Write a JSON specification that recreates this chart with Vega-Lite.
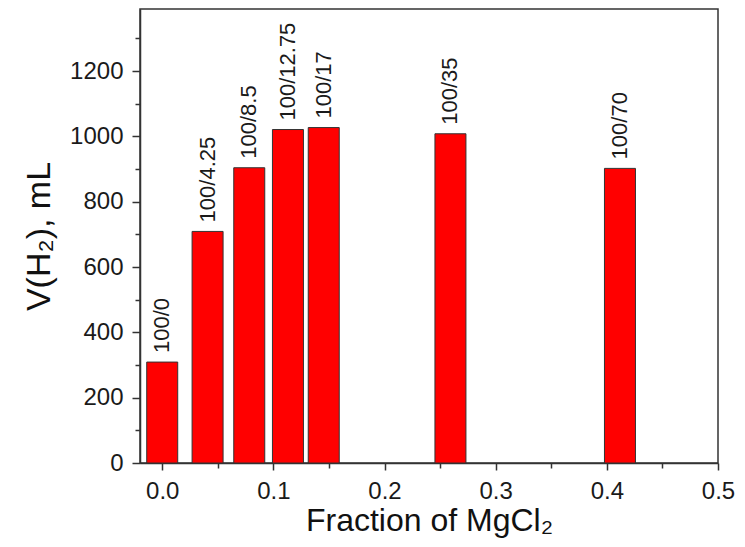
{
  "$schema": "https://vega.github.io/schema/vega-lite/v6.json",
  "autosize": "none",
  "width": 578,
  "height": 454,
  "padding": {"left": 140, "top": 9, "right": 27, "bottom": 84},
  "background": "white",
  "config": {
    "view": {"stroke": "#333333", "strokeWidth": 1.5},
    "font": "Liberation Sans",
    "axis": {
      "grid": false,
      "domainColor": "#333333",
      "domainWidth": 1.5,
      "tickColor": "#333333",
      "tickWidth": 1.5,
      "labelColor": "#1a1a1a",
      "titleColor": "#111111",
      "labelFont": "Liberation Sans",
      "titleFont": "Liberation Sans",
      "labelFontSize": 24,
      "titleFontSize": 32,
      "titleFontWeight": "normal"
    }
  },
  "data": {
    "values": [
      {"fraction": 0.0, "volume": 309, "ratio": "100/0"},
      {"fraction": 0.0408, "volume": 709, "ratio": "100/4.25"},
      {"fraction": 0.0783, "volume": 904, "ratio": "100/8.5"},
      {"fraction": 0.1131, "volume": 1021, "ratio": "100/12.75"},
      {"fraction": 0.1453, "volume": 1027, "ratio": "100/17"},
      {"fraction": 0.2593, "volume": 1008, "ratio": "100/35"},
      {"fraction": 0.4118, "volume": 902, "ratio": "100/70"}
    ]
  },
  "resolve": {"axis": {"x": "independent", "y": "independent"}},
  "layer": [
    {
      "mark": {"type": "bar", "orient": "vertical", "size": 31, "color": "#ff0000", "stroke": "#333333", "strokeWidth": 1},
      "encoding": {
        "x": {
          "field": "fraction", "type": "quantitative",
          "scale": {"domain": [-0.02, 0.5], "nice": false, "zero": false, "padding": 0},
          "axis": {
            "orient": "bottom",
            "title": "Fraction of MgCl₂",
            "values": [0, 0.1, 0.2, 0.3, 0.4, 0.5],
            "format": ".1f",
            "tickSize": 7,
            "labelPadding": 9,
            "titlePadding": 2,
            "labelFlush": false
          }
        },
        "y": {
          "field": "volume", "type": "quantitative",
          "scale": {"domain": [0, 1390], "nice": false, "padding": 0},
          "axis": {
            "orient": "left",
            "title": "V(H₂), mL",
            "titleFontSize": 34,
            "values": [0, 200, 400, 600, 800, 1000, 1200],
            "format": "d",
            "tickSize": 8,
            "labelPadding": 9,
            "titlePadding": 13,
            "labelFlush": false
          }
        }
      }
    },
    {
      "mark": {"type": "text", "angle": 270, "align": "left", "baseline": "middle", "dx": 9, "fontSize": 22, "color": "#1a1a1a", "font": "Liberation Sans"},
      "encoding": {
        "x": {
          "field": "fraction", "type": "quantitative",
          "axis": {
            "orient": "bottom",
            "title": null,
            "labels": false,
            "domain": false,
            "values": [0.05, 0.15, 0.25, 0.35, 0.45],
            "tickSize": 5
          }
        },
        "y": {
          "field": "volume", "type": "quantitative",
          "axis": {
            "orient": "left",
            "title": null,
            "labels": false,
            "domain": false,
            "values": [100, 300, 500, 700, 900, 1100, 1300],
            "tickSize": 5
          }
        },
        "text": {"field": "ratio"}
      }
    }
  ]
}
